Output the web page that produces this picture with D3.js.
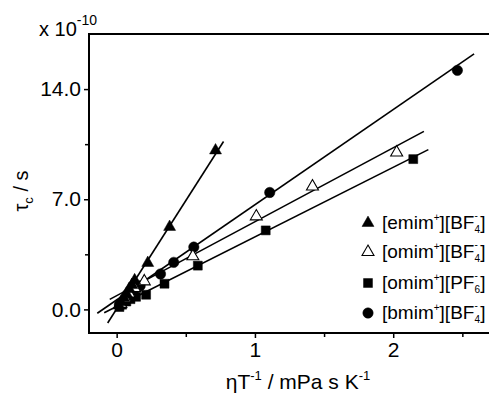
<!DOCTYPE html>
<html><head><meta charset="utf-8">
<script src="https://cdn.jsdelivr.net/npm/d3@7"></script>
<style>body{margin:0;background:#fff}svg{display:block;font-family:Arial,"Liberation Sans",sans-serif}</style>
</head><body><svg id="c" width="489" height="394"></svg>
<script>
const seriesNames = ["[emim+][BF4-]", "[omim+][BF4-]", "[omim+][PF6-]", "[bmim+][BF4-]"];
const emimBF4 = [[0.015,0.25],[0.03,0.45],[0.05,0.75],[0.07,1.0],[0.09,1.3],[0.11,1.55],[0.13,1.85],[0.225,2.95],[0.383,5.24],[0.715,10.1]];
const omimBF4 = [[0.03,0.35],[0.06,0.7],[0.09,1.0],[0.13,1.35],[0.2,1.78],[0.551,3.37],[1.01,5.91],[1.416,7.81],[2.025,9.97]];
const omimPF6 = [[0.02,0.15],[0.04,0.3],[0.07,0.5],[0.1,0.65],[0.14,0.8],[0.213,0.93],[0.346,1.63],[0.587,2.78],[1.078,5.02],[2.145,9.55]];
const bmimBF4 = [[0.02,0.3],[0.05,0.55],[0.08,0.8],[0.12,1.1],[0.17,1.5],[0.317,2.25],[0.413,2.99],[0.558,3.96],[1.107,7.43],[2.464,15.19]];
// linear fits: slope, intercept, x range
const fitSlope = [13.76, 4.70, 4.425, 6.05];
const fitIntercept = [0.03, 0.87, 0.18, 0.6];
const fitXStart = [-0.065, -0.05, -0.09, -0.14];
const fitXEnd = [0.773, 2.222, 2.254, 2.585];
const xTicks = [0, 1, 2];
const xMinor = [0.5, 1.5, 2.5];
const yTicks = [0, 7, 14];
const yMinor = [3.5, 10.5];
const yTickLabels = ["0.0", "7.0", "14.0"];

const svg = d3.select("#c");
const L = 89, R = 490, T = 34, B = 333;
const x = d3.scaleLinear().domain([-0.2, 2.7]).range([L, R]);
const y = d3.scaleLinear().domain([-1.5, 17.5]).range([B, T]);

// fit lines
const data = [emimBF4, omimBF4, omimPF6, bmimBF4];
const g = svg.append("g");
fitSlope.forEach((s, i) => {
  const x0 = fitXStart[i], x1 = fitXEnd[i];
  g.append("line").attr("x1", x(x0)).attr("y1", y(s * x0 + fitIntercept[i]))
    .attr("x2", x(x1)).attr("y2", y(s * x1 + fitIntercept[i]))
    .attr("stroke", "#000").attr("stroke-width", 1.6);
});

// markers
const symTypes = [d3.symbolTriangle, d3.symbolTriangle, d3.symbolSquare, d3.symbolCircle];
const symSizes = [62, 62, 80, 85];
const fills = ["#000", "#fff", "#000", "#000"];
function drawSym(sel, i) {
  sel.attr("d", d3.symbol().type(symTypes[i]).size(symSizes[i])())
    .attr("fill", fills[i]).attr("stroke", "#000").attr("stroke-width", i === 1 ? 1.1 : 0.5);
}
[2, 3, 1, 0].forEach(i => {
  g.selectAll(null).data(data[i]).enter().append("path")
    .attr("transform", d => `translate(${x(d[0])},${y(d[1])})`)
    .call(sel => drawSym(sel, i));
});

// axes
const ax = svg.append("g");
const sw = 2;
ax.append("line").attr("x1", L).attr("x2", R).attr("y1", B).attr("y2", B).attr("stroke", "#000").attr("stroke-width", sw);
ax.append("line").attr("x1", L).attr("x2", R).attr("y1", T).attr("y2", T).attr("stroke", "#000").attr("stroke-width", sw);
ax.append("line").attr("x1", L).attr("x2", L).attr("y1", T - 1).attr("y2", B + 1).attr("stroke", "#000").attr("stroke-width", sw);

const xAxis = d3.axisBottom(x).tickValues(xTicks).tickFormat(d3.format("d")).tickSize(5).tickPadding(4);
const xg = svg.append("g").attr("transform", `translate(0,${B})`).call(xAxis);
xg.select(".domain").remove();
xg.selectAll("line").attr("stroke-width", 1.5);
xg.selectAll("text").attr("font-size", 21).attr("font-family", "Arial, 'Liberation Sans', sans-serif").attr("fill", "#000");
const xm = d3.axisBottom(x).tickValues(xMinor).tickFormat("").tickSize(4);
const xmg = svg.append("g").attr("transform", `translate(0,${B})`).call(xm);
xmg.select(".domain").remove(); xmg.selectAll("line").attr("stroke-width", 1.5);

const yAxis = d3.axisLeft(y).tickValues(yTicks).tickFormat((d, i) => yTickLabels[i]).tickSize(5).tickPadding(3);
const yg = svg.append("g").attr("transform", `translate(${L},0)`).call(yAxis);
yg.select(".domain").remove();
yg.selectAll("line").attr("stroke-width", 1.5);
yg.selectAll("text").attr("font-size", 21).attr("font-family", "Arial, 'Liberation Sans', sans-serif").attr("fill", "#000");
const ym = d3.axisLeft(y).tickValues(yMinor).tickFormat("").tickSize(4);
const ymg = svg.append("g").attr("transform", `translate(${L},0)`).call(ym);
ymg.select(".domain").remove(); ymg.selectAll("line").attr("stroke-width", 1.5);

// exponent label
const ex = svg.append("text").attr("x", 39).attr("y", 36).attr("font-size", 20);
ex.append("tspan").text("x 10");
ex.append("tspan").attr("font-size", 14).attr("dy", -11).text("-10");

// axis titles
const xt = svg.append("text").attr("x", 298).attr("y", 389).attr("text-anchor", "middle").attr("font-size", 21);
xt.append("tspan").text("ηT");
xt.append("tspan").attr("font-size", 13).attr("dy", -9).text("-1");
xt.append("tspan").attr("dy", 9).text(" / mPa s K");
xt.append("tspan").attr("font-size", 13).attr("dy", -9).text("-1");

const yt = svg.append("text").attr("transform", "translate(28,191) rotate(-90)").attr("text-anchor", "middle").attr("font-size", 20);
yt.append("tspan").text("τ");
yt.append("tspan").attr("font-size", 13).attr("dy", 5).text("c");
yt.append("tspan").attr("dy", -5).text(" / s");

// legend
const legY = [223, 252, 283, 313];
const labelParts = [["emim","+","BF","4","-"],["omim","+","BF","4","-"],["omim","+","PF","6","-"],["bmim","+","BF","4","-"]];
seriesNames.forEach((n, i) => {
  svg.append("path").attr("transform", `translate(368,${legY[i]})`).call(sel => drawSym(sel, i));
  const p = labelParts[i];
  const t = svg.append("text").attr("x", 382).attr("y", legY[i] + 6).attr("font-size", 19);
  t.append("tspan").text("[" + p[0]);
  t.append("tspan").attr("font-size", 10).attr("dy", -8).text(p[1]);
  t.append("tspan").attr("dy", 8).text("][" + p[2]);
  t.append("tspan").attr("font-size", 10).attr("dy", 4).text(p[3]);
  t.append("tspan").attr("font-size", 10).attr("dx", -5.6).attr("dy", -14).text(p[4]);
  t.append("tspan").attr("dx", 2.5).attr("dy", 10).text("]");
});
</script></body></html>
